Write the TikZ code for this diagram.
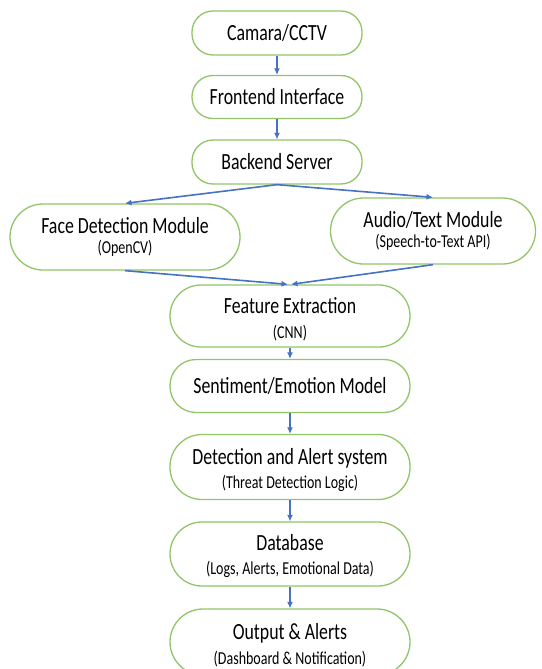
\documentclass[tikz,border=0pt]{standalone}
\usepackage{fontspec}
\usepackage{graphicx}
\setmainfont{Carlito}
\usetikzlibrary{arrows.meta}
\definecolor{boxgreen}{RGB}{146,196,104}
\definecolor{flowblue}{RGB}{68,114,196}
\tikzset{
  pill/.style={draw=boxgreen, line width=1.3pt, fill=white, rounded corners=#1,
    align=center, font=\fontsize{17.8}{21}\selectfont, inner sep=0pt},
  pill/.default=21pt,
  flow/.style={draw=flowblue, line width=1.6pt, -{Latex[length=6.5pt,width=6pt]}}
}
% tall single label
\newcommand{\oneline}[1]{\scalebox{1}[1.3]{#1}}
% tall label with a smaller second line; #3 is the baseline distance before
% stretching, #4 lowers the drawn label inside the pill
\newcommand{\twoline}[4]{\raisebox{-#4}[\height][\depth]{\scalebox{1}[1.3]{\vbox{\baselineskip=#3\lineskiplimit=-20pt
  \halign{\hfil##\hfil\cr\fontsize{17.8}{20}\selectfont #1\cr
  \fontsize{14}{16}\selectfont #2\cr}}}}}
\begin{document}
\begin{tikzpicture}[x=1pt,y=1pt]
\useasboundingbox (0,0) rectangle (541,-669);
% top chain
\node[pill, minimum width=170pt, minimum height=44pt] (cam) at (277,-33) {\oneline{Camara/CCTV}};
\node[pill, minimum width=170pt, minimum height=43pt] (front) at (277,-97) {\oneline{Frontend Interface}};
\node[pill, minimum width=170pt, minimum height=44pt] (back) at (277,-162) {\oneline{Backend Server}};
% two modules
\node[pill=33pt, minimum width=230pt, minimum height=66pt] (face) at (125,-237)
  {\twoline{Face Detection Module}{(OpenCV)}{16pt}{0pt}};
\node[pill=33pt, minimum width=205pt, minimum height=66pt] (audio) at (433,-231)
  {\twoline{Audio/Text Module}{(Speech-to-Text API)}{16pt}{0pt}};
% lower chain
\node[pill=31pt, minimum width=240pt, minimum height=62pt] (feat) at (290,-316)
  {\twoline{Feature Extraction}{(CNN)}{19pt}{3pt}};
\node[pill=26pt, minimum width=240pt, minimum height=53pt] (sent) at (290,-386)
  {\oneline{Sentiment/Emotion Model}};
\node[pill=32pt, minimum width=240pt, minimum height=65pt] (det) at (290,-467)
  {\twoline{Detection and Alert system}{(Threat Detection Logic)}{19pt}{3pt}};
\node[pill=32pt, minimum width=240pt, minimum height=64pt] (db) at (290,-554)
  {\twoline{Database}{(Logs, Alerts, Emotional Data)}{19pt}{2pt}};
\node[pill=33pt, minimum width=240pt, minimum height=66pt] (out) at (290,-642)
  {\twoline{Output \& Alerts}{(Dashboard \& Notification)}{19pt}{3pt}};
% connectors
\draw[flow] (cam) -- (front);
\draw[flow] (front) -- (back);
\draw[flow] (back.south) -- (face.north);
\draw[flow] (back.south) -- (audio.north);
\draw[flow] (face.south) -- ([xshift=-2pt]feat.north);
\draw[flow] (audio.south) -- ([xshift=1pt]feat.north);
\draw[flow] (feat) -- (sent);
\draw[flow] (sent) -- (det);
\draw[flow] (det) -- (db);
\draw[flow] (db) -- (out);
\end{tikzpicture}
\end{document}
